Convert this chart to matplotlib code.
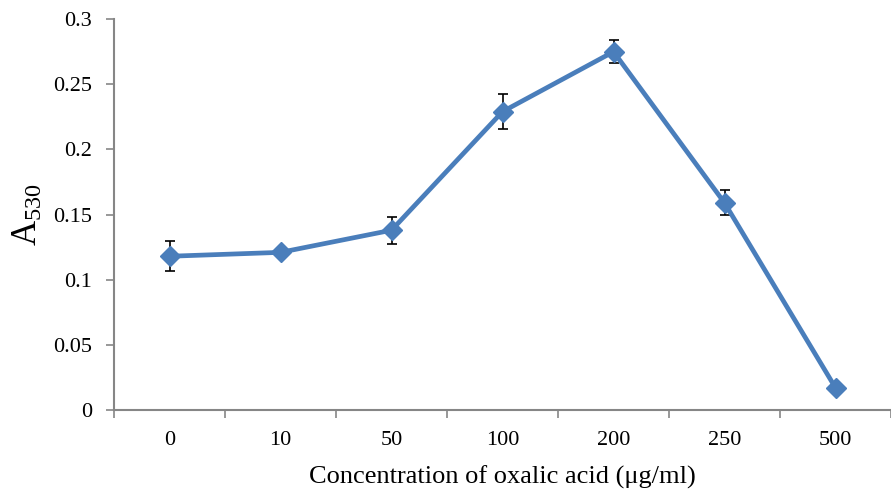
import matplotlib
matplotlib.use('Agg')
import matplotlib.pyplot as plt
import numpy as np

plt.rcParams['font.family'] = 'Liberation Serif'
plt.rcParams['mathtext.default'] = 'regular'

# absorbance at 530 nm for each oxalic acid concentration
concentrations = ['0', '10', '50', '100', '200', '250', '500']
a530 = [0.118, 0.121, 0.138, 0.229, 0.275, 0.159, 0.017]
a530_err = [0.0115, 0.002, 0.0105, 0.0137, 0.009, 0.0096, 0.001]

fig = plt.figure(figsize=(8.91, 4.91), dpi=100)
ax = fig.add_axes([0.128, 0.165, 0.872, 0.796])

x = np.arange(len(concentrations))
ax.errorbar(x, a530, yerr=a530_err, fmt='none', ecolor='black',
            elinewidth=1.2, capsize=3.5, capthick=1.2, zorder=2)
ax.plot(x, a530, color='#4A7EBB', linewidth=3.4, marker='D',
        markersize=10, zorder=3)

ax.set_xlim(-0.5, len(concentrations) - 0.5)
ax.set_ylim(0, 0.3)
ax.set_yticks(np.arange(0, 0.31, 0.05))
ax.set_yticklabels(['0', '0.05', '0.1', '0.15', '0.2', '0.25', '0.3'])
ax.set_xticks(x)
ax.set_xticklabels(concentrations)
# category boundaries get the tick marks, labels stay centred
ax.set_xticks(np.arange(-0.5, len(concentrations)), minor=True)
ax.tick_params(axis='x', which='major', length=0, pad=15, labelsize=16)
ax.tick_params(axis='x', which='minor', length=6, direction='out',
               color='#868686', width=1.2)
ax.tick_params(axis='y', length=6, direction='out', color='#868686',
               width=1.2, labelsize=16, pad=10)

for side in ['top', 'right']:
    ax.spines[side].set_visible(False)
for side in ['left', 'bottom']:
    ax.spines[side].set_color('#868686')
    ax.spines[side].set_linewidth(1.5)

ax.set_xlabel('Concentration of oxalic acid (μg/ml)', fontsize=19, labelpad=11)
ax.set_ylabel('A$_{530}$', fontsize=25, labelpad=6)

fig.savefig('out.png', dpi=100)
